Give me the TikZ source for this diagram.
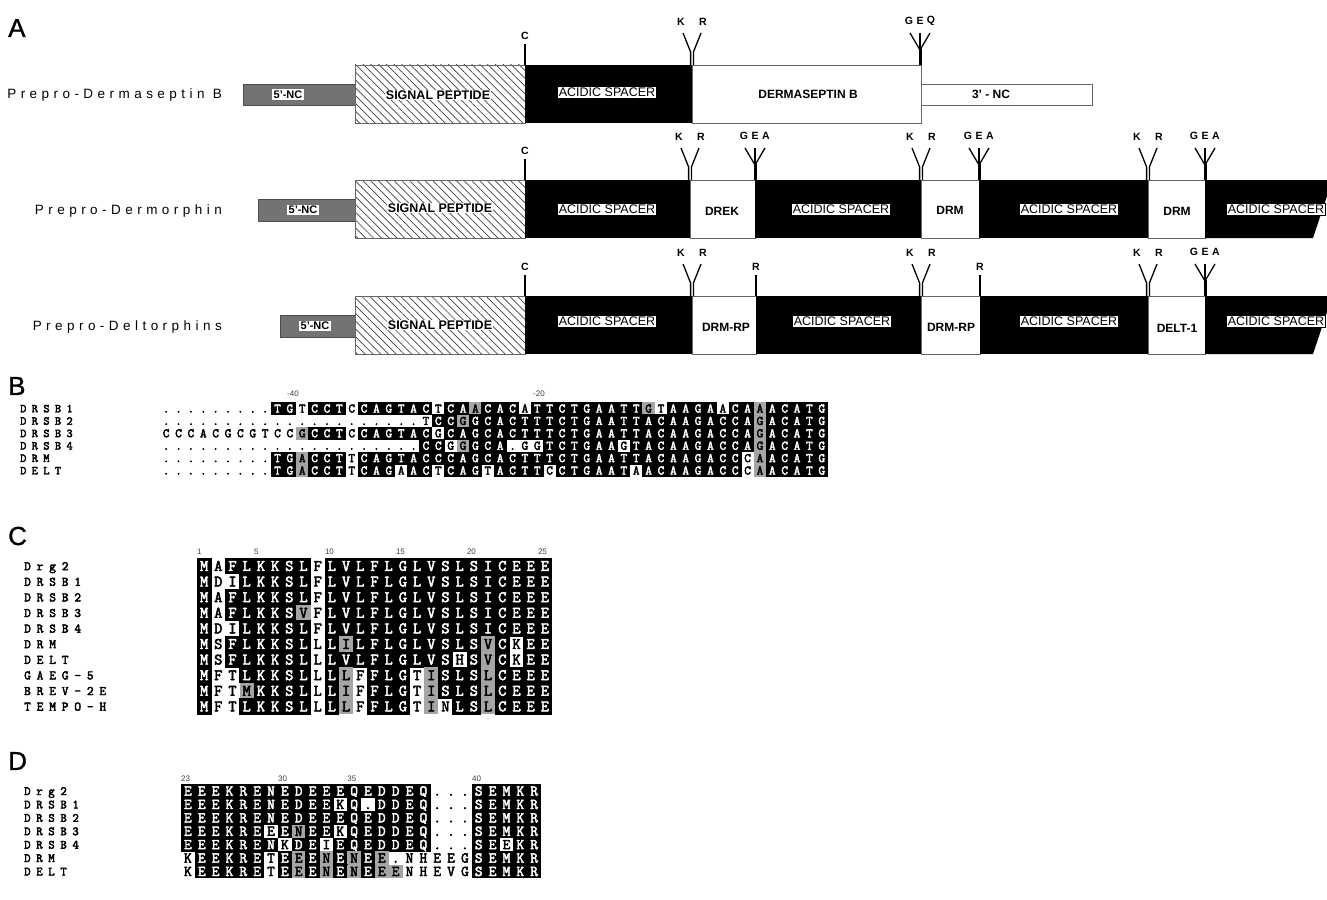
\documentclass[tikz,border=0pt]{standalone}
\usepackage{fontspec}
\setmainfont{Liberation Sans}
\newfontfamily\seqfont{Latin Modern Mono}[FakeBold=3]
\newfontfamily\lblfont{Latin Modern Mono}[FakeBold=3,LetterSpace=45]
\newfontfamily\spacedfont{Liberation Sans}[LetterSpace=33]
\newfontfamily\panelfont{Liberation Sans}[FakeBold=1]
\usetikzlibrary{patterns.meta}
\ExplSyntaxOn
\cs_new:Npn \myrep #1#2 { \prg_replicate:nn {#1} {#2} }
\ExplSyntaxOff
\definecolor{shadegray}{RGB}{165,165,165}
\newcount\alc
\def\alrow#1#2#3#4#5#6#7{\def\alx{#1}\def\aly{#2}\def\alw{#3}\def\alh{#4}\def\alcap{#5}\alc=0
  \edef\altmp{\noexpand\alstep#6\relax#7\relax}\altmp}
\def\alstep#1#2\relax#3#4\relax{\alcell{#1}{#3}\advance\alc by 1\relax
  \ifx\relax#2\relax\else\alstep#2\relax#4\relax\fi}
\def\alcell#1#2{%
  \if#2b\relax
    \fill[black] ({\alx+\alw*\the\alc-0.3},{\aly-\alh/2-0.3}) rectangle ({\alx+\alw*\the\alc+\alw+0.3},{\aly+\alh/2+0.3});
    \def\alcol{white}%
  \else
    \if#2g\relax
      \fill[shadegray] ({\alx+\alw*\the\alc},{\aly-\alh/2}) rectangle ({\alx+\alw*\the\alc+\alw},{\aly+\alh/2});
    \fi
    \def\alcol{black}%
  \fi
  \node[seqnode,text=\alcol,anchor=base] at ({\alx+\alw*\the\alc+\alw/2},{\aly+\alcap}) {#1};}
\def\seqsize{\fontsize{12}{12}\selectfont}
\def\lblsize{\fontsize{12}{12}\selectfont}
\newcommand\krfork[2]{%
  \draw[forkline] ({#1-9},{#2-32}) -- ({#1-1.4},{#2-13}) -- ({#1-1.4},{#2});
  \draw[forkline] ({#1+9},{#2-32}) -- ({#1+1.4},{#2-13}) -- ({#1+1.4},{#2});
  \node[site] at ({#1-11},{#2-43}) {K};
  \node[site] at ({#1+11},{#2-43}) {R};}
\newcommand\gfork[5]{%
  \draw[forkline] ({#1-10},{#2-32}) -- ({#1},{#2-15});
  \draw[forkline] ({#1},{#2-32}) -- ({#1},{#2-15});
  \draw[forkline] ({#1+10},{#2-32}) -- ({#1},{#2-15});
  \draw[line width=3pt] ({#1},{#2-16}) -- ({#1},{#2});
  \node[site] at ({#1-11},{#2-44}) {#3};
  \node[site] at ({#1},{#2-44}) {#4};
  \node[site] at ({#1+11},{#2-44}) {#5};}
\newcommand\ctick[3]{%
  \draw[forkline] ({#1},{#2-21}) -- ({#1},{#2});
  \node[site] at ({#1},{#2-29}) {#3};}
\begin{document}
\begin{tikzpicture}[x=1pt,y=-1pt,
  panel/.style={font=\panelfont\fontsize{26}{26}\selectfont,anchor=west,inner sep=0},
  prepro/.style={font=\spacedfont\fontsize{13.5}{13.5}\selectfont,anchor=east,inner sep=0},
  ncbox/.style={fill=black!55,draw=black!70,line width=0.8pt},
  nclab/.style={fill=white,font=\bfseries\fontsize{11}{11}\selectfont,inner sep=1.5pt},
  sigbox/.style={pattern={Lines[angle=-45,distance=5.5pt,line width=0.7pt]},pattern color=black!75,draw=black!60,line width=0.8pt},
  siglab/.style={fill=white,font=\bfseries\fontsize{12.5}{12.5}\selectfont,inner sep=1pt},
  aclab/.style={fill=white,draw=black,line width=0.5pt,font=\fontsize{12.5}{12.5}\selectfont,inner sep=1.5pt},
  pepbox/.style={fill=white,draw=black!60,line width=0.8pt},
  peplab/.style={font=\bfseries\fontsize{12}{12}\selectfont,inner sep=0},
  site/.style={font=\bfseries\fontsize{10.5}{10.5}\selectfont,inner sep=0},
  forkline/.style={line width=1.3pt},
  seqnode/.style={font=\seqfont\seqsize,inner sep=0pt},
  lbl/.style={font=\lblfont\lblsize,inner sep=0pt,anchor=base west},
  num/.style={font=\fontsize{8}{8}\selectfont,text=black!75,inner sep=0,anchor=south west}]
\useasboundingbox (0,0) rectangle (1327,899);
\fill[white] (0,0) rectangle (1327,899);
% ---------------- Panel A ----------------
\node[panel] (pA) at (8,28) {A};
% row 1
\node[prepro] (t1) at (222,95) {Prepro-Dermaseptin B};
\draw[ncbox] (243,84) rectangle (355,105);
\node[nclab] (nc1) at (288,94.5) {5'-NC};
\draw[sigbox] (355,65) rectangle (525,123);
\node[siglab] (sp1) at (438,95) {SIGNAL PEPTIDE};
\fill (525,65) rectangle (692,123);
\node[aclab] (ac11) at (607,92) {ACIDIC SPACER};
\draw[pepbox] (692,65) rectangle (921,123);
\node[peplab] (drsb) at (808,94) {DERMASEPTIN B};
\draw[pepbox] (921,84) rectangle (1092,105);
\node[peplab] (nc3) at (991,94.5) {3' - NC};
\ctick{525}{65}{C}
\krfork{692}{65}
\gfork{920}{65}{G}{E}{Q}
% row 2
\node[prepro] (t2) at (222,211) {Prepro-Dermorphin};
\draw[ncbox] (258,199) rectangle (355,221);
\node[nclab] (nc2) at (303,210) {5'-NC};
\draw[sigbox] (355,180) rectangle (525,238);
\node[siglab] (sp2) at (440,208) {SIGNAL PEPTIDE};
\fill (525,180) rectangle (690,238);
\draw[pepbox] (690,180) rectangle (755,238);
\fill (755,180) rectangle (921,238);
\draw[pepbox] (921,180) rectangle (979,238);
\fill (979,180) rectangle (1148,238);
\draw[pepbox] (1148,180) rectangle (1205,238);
\fill (1205,180) -- (1327,180) -- (1327,196) -- (1313,238) -- (1205,238) -- cycle;
\node[aclab] (ac21) at (607,209) {ACIDIC SPACER};
\node[aclab] (ac22) at (841,209) {ACIDIC SPACER};
\node[aclab] (ac23) at (1069,209) {ACIDIC SPACER};
\node[aclab] (ac24) at (1276,209) {ACIDIC SPACER};
\node[peplab] (drek) at (722,211) {DREK};
\node[peplab] (drm1) at (950,210) {DRM};
\node[peplab] (drm2) at (1177,211) {DRM};
\ctick{525}{180}{C}
\krfork{690}{180}
\gfork{755}{180}{G}{E}{A}
\krfork{921}{180}
\gfork{979}{180}{G}{E}{A}
\krfork{1148}{180}
\gfork{1205}{180}{G}{E}{A}
% row 3
\node[prepro] (t3) at (222,327) {Prepro-Deltorphins};
\draw[ncbox] (280,315) rectangle (355,337);
\node[nclab] (nc4) at (315,326) {5'-NC};
\draw[sigbox] (355,296) rectangle (525,354);
\node[siglab] (sp3) at (440,325) {SIGNAL PEPTIDE};
\fill (525,296) rectangle (692,354);
\draw[pepbox] (692,296) rectangle (756,354);
\fill (756,296) rectangle (921,354);
\draw[pepbox] (921,296) rectangle (980,354);
\fill (980,296) rectangle (1148,354);
\draw[pepbox] (1148,296) rectangle (1205,354);
\fill (1205,296) -- (1327,296) -- (1327,312) -- (1313,354) -- (1205,354) -- cycle;
\node[aclab] (ac31) at (607,321) {ACIDIC SPACER};
\node[aclab] (ac32) at (842,321) {ACIDIC SPACER};
\node[aclab] (ac33) at (1069,321) {ACIDIC SPACER};
\node[aclab] (ac34) at (1276,321) {ACIDIC SPACER};
\node[peplab] (rp1) at (726,327) {DRM-RP};
\node[peplab] (rp2) at (951,327) {DRM-RP};
\node[peplab] (delt) at (1177,328) {DELT-1};
\ctick{525}{296}{C}
\krfork{692}{296}
\ctick{756}{296}{R}
\krfork{921}{296}
\ctick{980}{296}{R}
\krfork{1148}{296}
\gfork{1205}{296}{G}{E}{A}
% ---------------- Panel B ----------------
\node[panel] (pB) at (8,386) {B};
\node[num] (n40) at (287,397) {-40};
\node[num] (n20) at (533,397) {-20};
\def\seqsize{\fontsize{13}{13}\selectfont}
\def\lblsize{\fontsize{12}{12}\selectfont}
\foreach \lab [count=\i] in {DRSB1,DRSB2,DRSB3,DRSB4,DRM,DELT}
  \node[lbl] at (20,{408.5+12.4*(\i-1)+3.8}) {\lab};
\alrow{160}{408.5}{12.37}{12.4}{4.0}{\myrep{9}{.}TGTCCTCCAGTACTCAACACATTCTGAATTGTAAGAACAAACATG}{\myrep{9}{w}bbwbbbw\myrep{6}{b}wbbgbbbw\myrep{9}{b}gwbbbbwbbgbbbbb}
\alrow{160}{420.9}{12.37}{12.4}{4.0}{\myrep{21}{.}TCCGGCACTTTCTGAATTACAAGACCAGACATG}{\myrep{21}{w}wbbg\myrep{23}{b}gbbbbb}
\alrow{160}{433.3}{12.37}{12.4}{4.0}{CCCACGCGTCCGCCTCCAGTACGCAGCACTTTCTGAATTACAAGACCAGACATG}{\myrep{11}{w}gbbbw\myrep{6}{b}w\myrep{25}{b}gbbbbb}
\alrow{160}{445.7}{12.37}{12.4}{4.0}{\myrep{21}{.}CCGGGCA.GGTCTGAAGTACAAGACCAGACATG}{\myrep{21}{w}bbwgbbbwwwbbbbbbw\myrep{10}{b}gbbbbb}
\alrow{160}{458.1}{12.37}{12.4}{4.0}{\myrep{9}{.}TGACCTTCAGTACCCAGCACTTTCTGAATTACAAGACCCAACATG}{\myrep{9}{w}bbgbbbw\myrep{31}{b}wgbbbbb}
\alrow{160}{470.5}{12.37}{12.4}{4.0}{\myrep{9}{.}TGACCTTCAGAACTCAGTACTTCCTGAATAACAAGACCCAACATG}{\myrep{9}{w}bbgbbbwbbbwbbwbbbwbbbbwbbbbbbwbbbbbbbbwgbbbbb}
% ---------------- Panel C ----------------
\node[panel] (pC) at (8,536) {C};
\foreach \nn/\cc in {1/1,5/5,10/10,15/15,20/20,25/25}
  \node[num] at ({197+14.2*(\cc-1)},{555}) {\nn};
\def\seqsize{\fontsize{16}{16}\selectfont}
\def\lblsize{\fontsize{13}{13}\selectfont}
\foreach \lab [count=\i] in {Drg2,DRSB1,DRSB2,DRSB3,DRSB4,DRM,DELT,GAEG-5,BREV-2E,TEMPO-H}
  \node[lbl] at (24,{566+15.6*(\i-1)+4.2}) {\lab};
\alrow{197}{566.0}{14.2}{15.6}{4.9}{MAFLKKSLFLVLFLGLVSLSICEEE}{bw\myrep{6}{b}w\myrep{16}{b}}
\alrow{197}{581.6}{14.2}{15.6}{4.9}{MDILKKSLFLVLFLGLVSLSICEEE}{bww\myrep{5}{b}w\myrep{16}{b}}
\alrow{197}{597.2}{14.2}{15.6}{4.9}{MAFLKKSLFLVLFLGLVSLSICEEE}{bw\myrep{6}{b}w\myrep{16}{b}}
\alrow{197}{612.8}{14.2}{15.6}{4.9}{MAFLKKSVFLVLFLGLVSLSICEEE}{bw\myrep{5}{b}gw\myrep{16}{b}}
\alrow{197}{628.4}{14.2}{15.6}{4.9}{MDILKKSLFLVLFLGLVSLSICEEE}{bww\myrep{5}{b}w\myrep{16}{b}}
\alrow{197}{644.0}{14.2}{15.6}{4.9}{MSFLKKSLLLILFLGLVSLSVCKEE}{bw\myrep{6}{b}wbg\myrep{9}{b}gbwbb}
\alrow{197}{659.6}{14.2}{15.6}{4.9}{MSFLKKSLLLVLFLGLVSHSVCKEE}{bw\myrep{6}{b}w\myrep{9}{b}wbgbwbb}
\alrow{197}{675.2}{14.2}{15.6}{4.9}{MFTLKKSLLLLFFLGTISLSLCEEE}{bwwbbbbbwbgwbbbwgbbbgbbbb}
\alrow{197}{690.8}{14.2}{15.6}{4.9}{MFTMKKSLLLIFFLGTISLSLCEEE}{bwwgbbbbwbgwbbbwgbbbgbbbb}
\alrow{197}{706.4}{14.2}{15.6}{4.9}{MFTLKKSLLLLFFLGTINLSLCEEE}{bwwbbbbbwbgwbbbwgwbbgbbbb}
% ---------------- Panel D ----------------
\node[panel] (pD) at (8,761) {D};
\foreach \nn/\cc in {23/1,30/8,35/13,40/22}
  \node[num] at ({181+13.85*(\cc-1)},{782}) {\nn};
\def\seqsize{\fontsize{15}{15}\selectfont}
\def\lblsize{\fontsize{12.5}{12.5}\selectfont}
\foreach \lab [count=\i] in {Drg2,DRSB1,DRSB2,DRSB3,DRSB4,DRM,DELT}
  \node[lbl] at (24,{791+13.4*(\i-1)+4}) {\lab};
\alrow{181}{791.0}{13.85}{13.4}{4.6}{EEEKRENEDEEEQEDDEQ...SEMKR}{\myrep{18}{b}www\myrep{5}{b}}
\alrow{181}{804.4}{13.85}{13.4}{4.6}{EEEKRENEDEEKQ.DDEQ...SEMKR}{\myrep{11}{b}wbwbbbbwww\myrep{5}{b}}
\alrow{181}{817.8}{13.85}{13.4}{4.6}{EEEKRENEDEEEQEDDEQ...SEMKR}{\myrep{18}{b}www\myrep{5}{b}}
\alrow{181}{831.2}{13.85}{13.4}{4.6}{EEEKREEENEEKQEDDEQ...SEMKR}{\myrep{6}{b}wbgbbw\myrep{6}{b}www\myrep{5}{b}}
\alrow{181}{844.6}{13.85}{13.4}{4.6}{EEEKRENKDEIEQEDDEQ...SEEKR}{\myrep{7}{b}wbbw\myrep{7}{b}wwwbbwbb}
\alrow{181}{858.0}{13.85}{13.4}{4.6}{KEEKRETEEENENEE.NHEEGSEMKR}{wbbbbbwbgbgbgbgwwwwww\myrep{5}{b}}
\alrow{181}{871.4}{13.85}{13.4}{4.6}{KEEKRETEEENENEEENHEVGSEMKR}{wbbbbbwbgbgbgbggwwwww\myrep{5}{b}}
\end{tikzpicture}
\end{document}
